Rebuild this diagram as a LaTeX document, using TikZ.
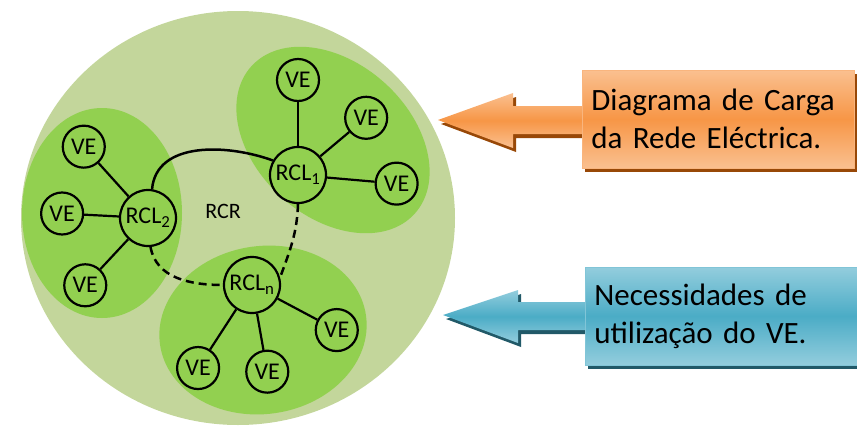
\documentclass[tikz,border=0pt]{standalone}
\usepackage{fontspec}
\setmainfont{Carlito}
\usepackage{tikz}
\usetikzlibrary{shadows}
\definecolor{bgGreen}{HTML}{C3D69B}
\definecolor{lfGreen}{HTML}{92D050}
\definecolor{orgLight}{HTML}{FAC090}
\definecolor{orgMid}{HTML}{F79646}
\definecolor{orgDark}{HTML}{984807}
\definecolor{bluLight}{HTML}{93CDDD}
\definecolor{bluMid}{HTML}{4BACC6}
\definecolor{bluDark}{HTML}{215968}

\begin{document}
\begin{tikzpicture}[x=1pt, y=1pt,
    ve/.style={circle, draw, line width=2.2pt, fill=lfGreen, minimum size=42pt,
        inner sep=0pt, font=\fontsize{24}{26}\selectfont},
    rcl/.style={circle, draw, line width=2.2pt, fill=lfGreen, minimum size=56pt,
        inner sep=0pt, font=\fontsize{24}{26}\selectfont},
    edge from parent/.style={draw, line width=2.2pt},
    link/.style={line width=2.5pt},
    orgbox/.style={rectangle, top color=orgLight, bottom color=orgLight, middle color=orgMid,
        draw=orgMid!70!white, line width=0.8pt, minimum width=272pt, minimum height=98pt,
        text width=254pt, align=left, inner xsep=8pt, anchor=west,
        font=\fontsize{31}{38}\selectfont,
        drop shadow={shadow xshift=3pt, shadow yshift=-4pt, fill=orgDark, opacity=1}},
    blubox/.style={orgbox, top color=bluLight, bottom color=bluLight, middle color=bluMid,
        draw=bluMid!70!white,
        drop shadow={shadow xshift=3pt, shadow yshift=-4pt, fill=bluDark, opacity=1}}]
    \useasboundingbox (0,0) rectangle (857,-429);

    \fill[bgGreen] (238,-218) ellipse [x radius=217, y radius=207];
    \fill[lfGreen] (102,-213) ellipse [x radius=80, y radius=105];
    \fill[lfGreen, rotate around={-42:(333,-140)}] (333,-140) ellipse [x radius=110, y radius=77];
    \fill[lfGreen, rotate around={8:(263,-330)}] (263,-330) ellipse [x radius=104, y radius=84];

    \path[top color=orgLight, bottom color=orgLight, middle color=orgMid,
        drop shadow={shadow xshift=3pt, shadow yshift=-4pt, fill=orgDark, opacity=1}]
        (438,-120) -- (513,-93) -- (513,-106) -- (590,-106) -- (590,-134)
        -- (513,-134) -- (513,-148) -- cycle;
    \node[orgbox] (carga) at (582,-119) {Diagrama de Carga\\da Rede Eléctrica.};

    \path[top color=bluLight, bottom color=bluLight, middle color=bluMid,
        drop shadow={shadow xshift=3pt, shadow yshift=-4pt, fill=bluDark, opacity=1}]
        (443,-315) -- (518,-290) -- (518,-302) -- (593,-302) -- (593,-330)
        -- (518,-330) -- (518,-343) -- cycle;
    \node[blubox] (uso) at (585,-316) {Necessidades de\\utilização do VE.};

    \node[font=\fontsize{22}{24}\selectfont] (rcr) at (223,-211) {RCR};

    \node[rcl] (rcl2) at (148,-218) {RCL\textsubscript{2}}
    child[grow=132, level distance=96pt] { node[ve] (ve21) {VE} }
    child[grow=177, level distance=86pt] { node[ve] (ve22) {VE} }
    child[grow=227, level distance=92pt] { node[ve] (ve23) {VE} };

    \node[rcl] (rcl1) at (298,-175) {RCL\textsubscript{1}}
    child[grow=90, level distance=95pt] { node[ve] (ve11) {VE} }
    child[grow=40, level distance=89pt] { node[ve] (ve12) {VE} }
    child[grow=-5, level distance=99pt] { node[ve] (ve13) {VE} };

    \node[rcl] (rcln) at (252,-285) {RCL\textsubscript{n}}
    child[grow=237, level distance=99pt] { node[ve] (ven1) {VE} }
    child[grow=280, level distance=88pt] { node[ve] (ven2) {VE} }
    child[grow=-28, level distance=96pt] { node[ve] (ven3) {VE} };

    \draw[link] (rcl2.82) to[out=85, in=160] (rcl1.150);
    \draw[link, dash pattern=on 8pt off 5pt] (rcl2.-85) to[out=-80, in=180] (rcln.west);
    \draw[link, dash pattern=on 8pt off 5pt] (rcl1.south) to[out=-92, in=70] (rcln.15);
\end{tikzpicture}
\end{document}
